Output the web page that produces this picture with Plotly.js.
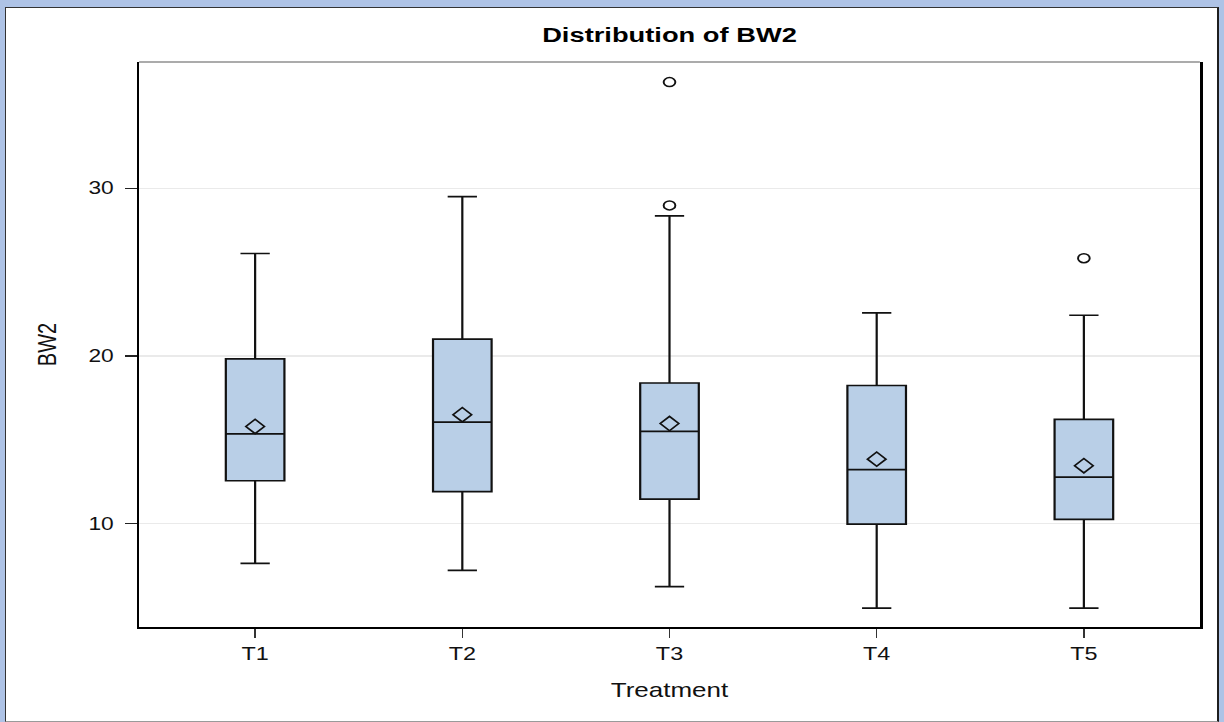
<!DOCTYPE html>
<html>
<head>
<meta charset="utf-8">
<script src="https://cdn.plot.ly/plotly-3.0.1.min.js"></script>
<style>
  html, body { margin: 0; padding: 0; background: #aec3e6; width: 1224px; height: 722px; overflow: hidden; }
  #frame {
    position: absolute; left: 5px; top: 7px; width: 1211px; height: 713px;
    background: #ffffff;
    border-left: 1.5px solid #333333; border-top: 1.5px solid #333333;
    border-right: 2.5px solid #1e1e1e; border-bottom: 1.5px solid #9a9a9a;
  }
  #chart {
    position: absolute; left: 0; top: 0;
    transform: scaleX(1.3); transform-origin: 0 0;
  }
</style>
</head>
<body>
<div id="frame"></div>
<div id="chart"></div>
<script>
// Box statistics of BW2 for each treatment group
const treatments   = ['T1', 'T2', 'T3', 'T4', 'T5'];
const lowerWhisker = [7.63, 7.22, 6.25, 4.97, 4.97];
const q1           = [12.56, 11.91, 11.47, 9.98, 10.26];
const median       = [15.36, 16.06, 15.50, 13.22, 12.78];
const q3           = [19.83, 21.00, 18.39, 18.24, 16.22];
const upperWhisker = [26.11, 29.50, 28.36, 22.57, 22.43];
const means        = [15.80, 16.50, 15.97, 13.85, 13.46];

// Observations beyond the whiskers
const outlierGroup = ['T3', 'T3', 'T5'];
const outlierValue = [36.33, 28.98, 25.83];

// Y-axis ticks
const yTicks = [10, 20, 30];

const stretch = 1.3;               // horizontal scale applied to the chart element
const fullW = 1224, fullH = 722;
const W = fullW / stretch;

const font = 'Liberation Sans, Arial, Helvetica, sans-serif';

const boxTrace = {
  type: 'box',
  x: treatments,
  q1: q1,
  median: median,
  q3: q3,
  lowerfence: lowerWhisker,
  upperfence: upperWhisker,
  boxpoints: false,
  fillcolor: '#b9cfe7',
  line: { color: '#111111', width: 1.7 },
  whiskerwidth: 0.5,
  hoverinfo: 'skip',
  showlegend: false
};

const meanTrace = {
  type: 'scatter',
  mode: 'markers',
  x: treatments,
  y: means,
  marker: { symbol: 'diamond-open', size: 11, color: '#111111', line: { width: 1.5, color: '#111111' } },
  hoverinfo: 'skip',
  showlegend: false
};

const outlierTrace = {
  type: 'scatter',
  mode: 'markers',
  x: outlierGroup,
  y: outlierValue,
  marker: { symbol: 'circle-open', size: 9, color: '#111111', line: { width: 1.5, color: '#111111' } },
  hoverinfo: 'skip',
  showlegend: false
};

const layout = {
  width: W,
  height: fullH,
  margin: { l: 138.5 / stretch, r: 25.3 / stretch, t: 61.7, b: 95.3, pad: 0 },
  paper_bgcolor: 'rgba(0,0,0,0)',
  plot_bgcolor: '#ffffff',
  font: { family: font, color: '#111111', size: 18 },
  title: {
    text: '<b>Distribution of BW2</b>',
    font: { family: font, size: 21, color: '#000000' },
    x: 0.5, xref: 'paper', xanchor: 'center',
    y: 1 - 35 / fullH, yref: 'container', yanchor: 'middle'
  },
  boxgap: 0.596,
  xaxis: {
    type: 'category',
    range: [-0.56, 4.56],
    showline: true, linecolor: '#000000', linewidth: 2,
    ticks: 'outside', ticklen: 9, tickwidth: 1, tickcolor: '#333333',
    showgrid: false, zeroline: false,
    tickfont: { family: font, size: 18, color: '#111111' },
    title: { text: 'Treatment', font: { family: font, size: 20, color: '#111111' }, standoff: 20 }
  },
  yaxis: {
    range: [3.84, 37.53],
    tickvals: yTicks,
    ticktext: yTicks.map(String),
    showline: true, mirror: true, linecolor: '#000000', linewidth: 2,
    ticks: 'outside', ticklen: 9, tickwidth: 1.5, tickcolor: '#222222',
    ticklabelstandoff: 5,
    showgrid: true, gridcolor: '#eaeaea', gridwidth: 1.5,
    zeroline: false,
    tickfont: { family: font, size: 17.5, color: '#111111' },
    title: { text: 'BW2', font: { family: font, size: 20, color: '#111111' }, standoff: 19 }
  },
  shapes: [
    // top edge of the plot wall
    { type: 'line', xref: 'paper', yref: 'paper', x0: 0, x1: 1, y0: 1, y1: 1,
      line: { color: '#8f8f8f', width: 1.5 }, layer: 'above' }
  ]
};

Plotly.newPlot('chart', [boxTrace, meanTrace, outlierTrace], layout, { displayModeBar: false, staticPlot: true });
</script>
</body>
</html>
